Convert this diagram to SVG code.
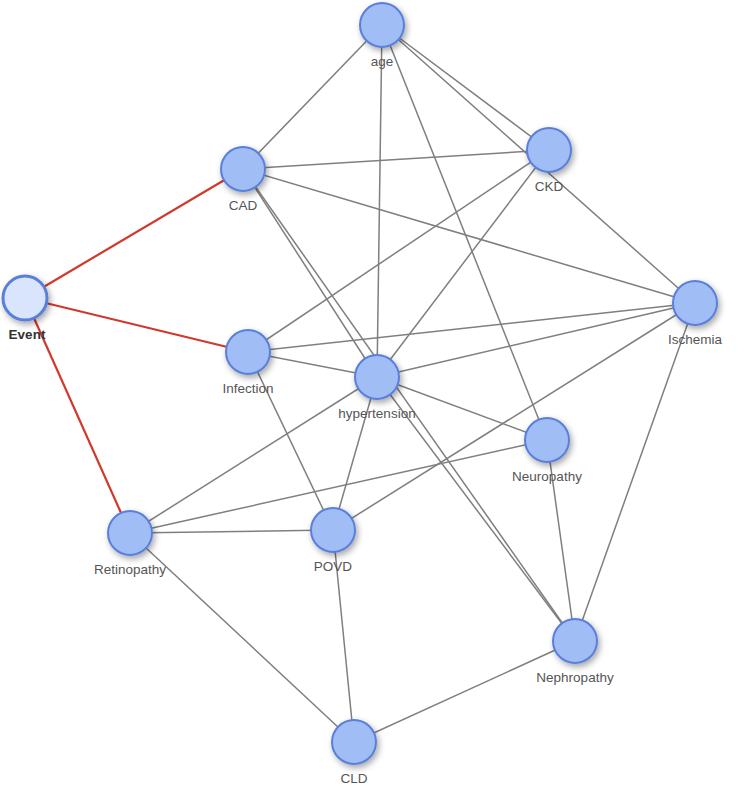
<svg xmlns="http://www.w3.org/2000/svg" width="750" height="795" viewBox="0 0 750 795">
<defs>
<filter id="sh" x="-50%" y="-50%" width="200%" height="200%">
<feDropShadow dx="2" dy="3" stdDeviation="3" flood-color="#000" flood-opacity="0.35"/>
</filter>
<style>
.e{stroke:#7f7f7f;stroke-width:1.5;fill:none}
.r{stroke:#d0392b;stroke-width:2.2;fill:none}
.n circle{fill:#a1bdf6;stroke:#5a7fdb;stroke-width:2;filter:url(#sh)}
.n text{font-family:"Liberation Sans",Arial,sans-serif;font-size:13.5px;fill:#555;text-anchor:middle}
#event circle{fill:#d9e5fd;stroke:#5a7fdb;stroke-width:3}
#event text{font-weight:bold;fill:#333}
</style>
</defs>
<rect width="750" height="795" fill="#fff"/>
<g id="edges">
<line class="e" x1="382" y1="25" x2="243" y2="169"/>
<line class="e" x1="382" y1="25" x2="377" y2="377"/>
<line class="e" x1="382" y1="25" x2="547" y2="440"/>
<line class="e" x1="382" y1="25" x2="549" y2="150"/>
<line class="e" x1="382" y1="25" x2="695" y2="303"/>
<line class="e" x1="243" y1="169" x2="549" y2="150"/>
<line class="e" x1="243" y1="169" x2="695" y2="303"/>
<line class="e" x1="243" y1="169" x2="377" y2="377"/>
<line class="e" x1="243" y1="169" x2="575" y2="641"/>
<line class="e" x1="549" y1="150" x2="248" y2="352"/>
<line class="e" x1="549" y1="150" x2="377" y2="377"/>
<line class="e" x1="248" y1="352" x2="695" y2="303"/>
<line class="e" x1="248" y1="352" x2="377" y2="377"/>
<line class="e" x1="248" y1="352" x2="333" y2="530"/>
<line class="e" x1="377" y1="377" x2="695" y2="303"/>
<line class="e" x1="377" y1="377" x2="547" y2="440"/>
<line class="e" x1="377" y1="377" x2="130" y2="533"/>
<line class="e" x1="377" y1="377" x2="333" y2="530"/>
<line class="e" x1="377" y1="377" x2="575" y2="641"/>
<line class="e" x1="695" y1="303" x2="333" y2="530"/>
<line class="e" x1="695" y1="303" x2="575" y2="641"/>
<line class="e" x1="547" y1="440" x2="130" y2="533"/>
<line class="e" x1="547" y1="440" x2="575" y2="641"/>
<line class="e" x1="130" y1="533" x2="333" y2="530"/>
<line class="e" x1="130" y1="533" x2="354" y2="742"/>
<line class="e" x1="333" y1="530" x2="354" y2="742"/>
<line class="e" x1="354" y1="742" x2="575" y2="641"/>
<line class="r" x1="25" y1="298" x2="243" y2="169"/>
<line class="r" x1="25" y1="298" x2="248" y2="352"/>
<line class="r" x1="25" y1="298" x2="130" y2="533"/>
</g>
<g id="age" class="n"><circle cx="382" cy="25" r="22"/><text x="382" y="66">age</text></g>
<g id="CAD" class="n"><circle cx="243" cy="169" r="22"/><text x="243" y="210">CAD</text></g>
<g id="CKD" class="n"><circle cx="549" cy="150" r="22"/><text x="549" y="191">CKD</text></g>
<g id="event" class="n"><circle cx="25" cy="298" r="22"/><text x="27" y="339">Event</text></g>
<g id="Ischemia" class="n"><circle cx="695" cy="303" r="22"/><text x="695" y="344">Ischemia</text></g>
<g id="Infection" class="n"><circle cx="248" cy="352" r="22"/><text x="248" y="393">Infection</text></g>
<g id="hypertension" class="n"><circle cx="377" cy="377" r="22"/><text x="377" y="418">hypertension</text></g>
<g id="Neuropathy" class="n"><circle cx="547" cy="440" r="22"/><text x="547" y="481">Neuropathy</text></g>
<g id="Retinopathy" class="n"><circle cx="130" cy="533" r="22"/><text x="130" y="574">Retinopathy</text></g>
<g id="POVD" class="n"><circle cx="333" cy="530" r="22"/><text x="333" y="571">POVD</text></g>
<g id="Nephropathy" class="n"><circle cx="575" cy="641" r="22"/><text x="575" y="682">Nephropathy</text></g>
<g id="CLD" class="n"><circle cx="354" cy="742" r="22"/><text x="354" y="783">CLD</text></g>
</svg>
